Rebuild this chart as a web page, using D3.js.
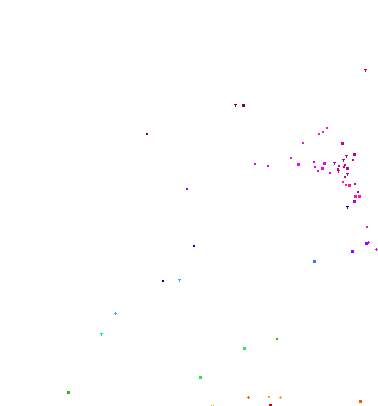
<!DOCTYPE html>
<html>
<head>
<meta charset="utf-8">
<script src="https://cdn.jsdelivr.net/npm/d3@7"></script>
<style>
  body { margin: 0; background: #fff; }
  .punt { shape-rendering: crispEdges; }
</style>
</head>
<body>
<svg width="378" height="406"></svg>
<script>
var xs = [365.3, 235.3, 243, 146.7, 326.7, 323.3, 319, 302.7, 341.7, 291,
          297.7, 314.3, 315, 323.7, 321.7, 317.7, 330, 333.7, 346.3, 354,
          353.3, 343, 339, 344.7, 344, 347, 338, 337.7, 346.7, 345,
          343, 346, 349, 354.7, 358, 355.3, 359, 353.7, 346.7, 367.3,
          368.3, 366, 376, 351.7, 314, 255, 268, 186.7, 193.7, 162.7,
          179.3, 115.3, 101.3, 277, 244, 200, 68, 248.3, 268.7, 280.3,
          360, 269.7, 211, 213];
var ys = [70.3, 105.3, 104.7, 134, 127.7, 132, 134, 143.3, 142.7, 158.3,
          163.7, 162.3, 166.7, 162.7, 167.7, 170.7, 173.3, 163, 156, 153.7,
          160.3, 160, 166, 164.7, 167.3, 167.7, 169, 171.3, 174.3, 176.7,
          181.7, 184.7, 185, 183.7, 192, 196, 196, 200.7, 207.3, 226.7,
          241.7, 242.7, 249, 251.3, 261, 164, 166, 188.7, 246, 281.3,
          279.5, 313.3, 334, 338.7, 348, 377, 391.7, 397.3, 397.3, 397.3,
          401.3, 404.7, 405.3, 405.3];
var groups = [0, 13, 13, 13, 11, 11, 11, 11, 12, 11,
              10, 10, 10, 10, 10, 10, 10, 12, 12, 12,
              12, 12, 12, 12, 12, 12, 12, 12, 12, 12,
              11, 11, 11, 12, 12, 11, 11, 9, 8, 11,
              10, 9, 10, 9, 7, 10, 10, 9, 8, 8,
              6, 6, 5, 3, 4, 4, 3, 1, 2, 2,
              1, 0, 2, 2];
var kinds = ["tee", "tee", "sq", "dot", "dot", "dot", "dot", "dot", "sq", "dot",
             "sq", "dot", "dot", "sq", "sq", "dot", "dot", "tee", "tee", "sq",
             "dot", "tee", "dot", "dot", "dot", "sq", "dot", "tee", "tee", "dot",
             "dot", "dot", "sq", "dot", "dot", "sq", "sq", "sq", "tee", "dot",
             "cross", "sq", "cross", "sq", "sq", "dot", "dot", "dot", "dot", "dot",
             "tee", "cross", "tee", "dot", "sq", "sq", "sq", "cross", "dot", "cross",
             "sq", "sq", "px", "px"];

var data = xs.map(function (x, i) {
    return { x: x, y: ys[i], g: groups[i], k: kinds[i] };
});

var svg = d3.select("svg"),
    width = +svg.attr("width"),
    height = +svg.attr("height");

var x = d3.scaleLinear().domain([0, 378]).range([0, width]),
    y = d3.scaleLinear().domain([0, 406]).range([0, height]);

// kleuren per groep, van rood via groen en blauw naar paars
var kleur = d3.scaleOrdinal()
    .domain(d3.range(14))
    .range(["#d40000", "#ff5500", "#ffa500", "#22c000", "#22ee44", "#00e6a0",
            "#00c6ee", "#3377ff", "#0000b4", "#9a00ff", "#ee00ff", "#ff14b4",
            "#cc0088", "#80004f"]);

// kleine pixelvormen, linksboven op hele pixels
var vorm = {
    sq: "M-1,-1h3v3h-3z",
    dot: "M-1,-1h2v2h-2z",
    px: "M0,0h1v1h-1z",
    tee: "M-1,-1h3v1h-1v2h-1v-2h-1z",
    cross: "M0,-1h1v1h1v1h-1v1h-1v-1h-1v-1h1z"
};

svg.selectAll(".punt")
    .data(data)
    .enter().append("path")
    .attr("class", "punt")
    .attr("transform", function (d) {
        return "translate(" + Math.round(x(d.x)) + "," + Math.round(y(d.y)) + ")";
    })
    .attr("d", function (d) { return vorm[d.k]; })
    .attr("fill", function (d) { return kleur(d.g); });
</script>
</body>
</html>
